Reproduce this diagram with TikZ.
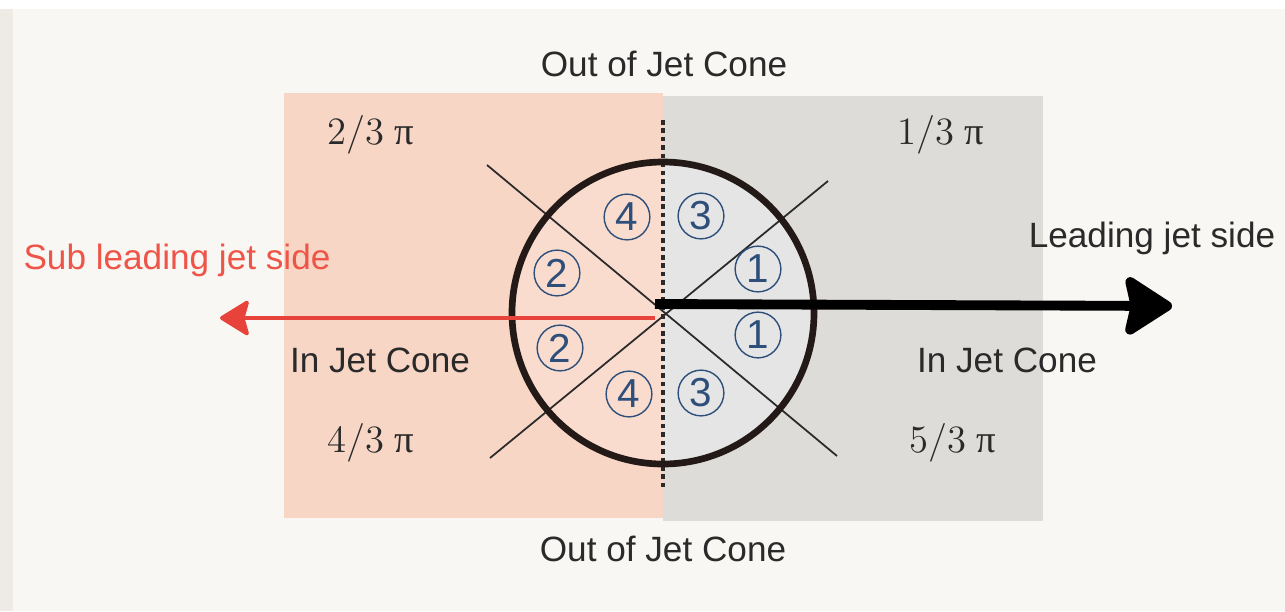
\documentclass[tikz,border=0pt]{standalone}
\usepackage{fontspec}
\setsansfont{Liberation Sans}
\newfontfamily\pifont{Liberation Serif}
\usepackage{tikz}
\usetikzlibrary{arrows.meta,positioning}
\definecolor{cBg}{HTML}{F8F7F3}
\definecolor{cEdge}{HTML}{EEEAE4}
\definecolor{cSalmon}{HTML}{F7D6C6}
\definecolor{cSalmonIn}{HTML}{FADCCF}
\definecolor{cGrey}{HTML}{DEDCD8}
\definecolor{cGreyIn}{HTML}{E5E5E5}
\definecolor{cRim}{HTML}{231A18}
\definecolor{cNum}{HTML}{2E4F7A}
\definecolor{cRed}{HTML}{E8433A}
\definecolor{cRedText}{HTML}{EE5548}
\definecolor{cInk}{HTML}{2A2A2A}
\tikzset{
  rim/.style={draw=cRim,line width=1.9pt},
  cross/.style={draw=cInk,line width=0.5pt},
  split/.style={draw=cInk,line width=0.9pt,dash pattern=on 1.3pt off 1.1pt},
  region/.style={circle,draw=cNum,line width=0.4pt,text=cNum,minimum size=13pt,
    inner sep=0pt,font=\sffamily\fontsize{11.5}{11.5}\selectfont},
  label/.style={text=cInk,font=\sffamily\fontsize{10}{12}\selectfont},
  angle/.style={text=cInk,font=\fontsize{11}{13}\selectfont},
  subarrow/.style={-{Stealth[length=9pt,width=11pt,inset=1.5pt,round]},line width=1.1pt,cRed},
  leadarrow/.style={-{Stealth[length=15pt,width=19pt,inset=2pt,round]},line width=2.8pt,black},
}
\newcommand{\ang}[1]{#1\hspace{0.25em}{\pifont π}}
\begin{document}
\begin{tikzpicture}[x=0.01cm,y=0.01cm]
\useasboundingbox (0,0) rectangle (1285,611);
\fill[cBg] (0,0) rectangle (1285,611);
\fill[white] (0,602) rectangle (1285,611);
\fill[cEdge] (0,0) rectangle (13,602);
\fill[cSalmon] (284,93) rectangle (663,518);
\fill[cGrey] (663,90) rectangle (1043,515);
\coordinate (O) at (663,298);
\fill[cSalmonIn] (O) ++(0,151) arc[start angle=90,end angle=270,radius=151] -- cycle;
\fill[cGreyIn] (O) ++(0,151) arc[start angle=90,end angle=-90,radius=151] -- cycle;
\coordinate (ul) at (487,446);
\coordinate (lr) at (837,155);
\coordinate (ll) at (490,153);
\coordinate (ur) at (828,430);
\draw[cross] (ul) -- (lr);
\draw[cross] (ll) -- (ur);
\coordinate (splitTop) at (663,491);
\coordinate (splitBot) at (663,121);
\draw[split] (splitTop) -- (splitBot);
\draw[rim] (O) circle[radius=151];
\node[region] (r4a) at (627,394) {4};
\node[region] (r3a) at (701,395) {3};
\node[region] (r2a) at (557,338) {2};
\node[region] (r1a) at (758,342) {1};
\node[region] (r1b) at (758,276) {1};
\node[region] (r2b) at (560,263) {2};
\node[region] (r4b) at (629,217) {4};
\node[region] (r3b) at (701,218) {3};
\coordinate (subStart) at (655,293);
\coordinate (sub) at (220,293);
\coordinate (leadStart) at (655,307);
\coordinate (lead) at (1172,305);
\draw[subarrow] (subStart) -- (sub);
\draw[leadarrow] (leadStart) -- (lead);
\node[label] (outTop) at (664,547) {Out of Jet Cone};
\node[label] (outBot) at (663,62) {Out of Jet Cone};
\node[label,text=cRedText] (subSide) at (177,351) {Sub leading jet side};
\node[label] (leadSide) at (1152,373) {Leading jet side};
\node[label] (inLeft) at (380,251) {In Jet Cone};
\node[label] (inRight) at (1007,251) {In Jet Cone};
\node[angle] (a2) at (371,476) {\ang{2/3}};
\node[angle] (a1) at (941,476) {\ang{1/3}};
\node[angle] (a4) at (371,168) {\ang{4/3}};
\node[angle] (a5) at (953,168) {\ang{5/3}};
\end{tikzpicture}
\end{document}
